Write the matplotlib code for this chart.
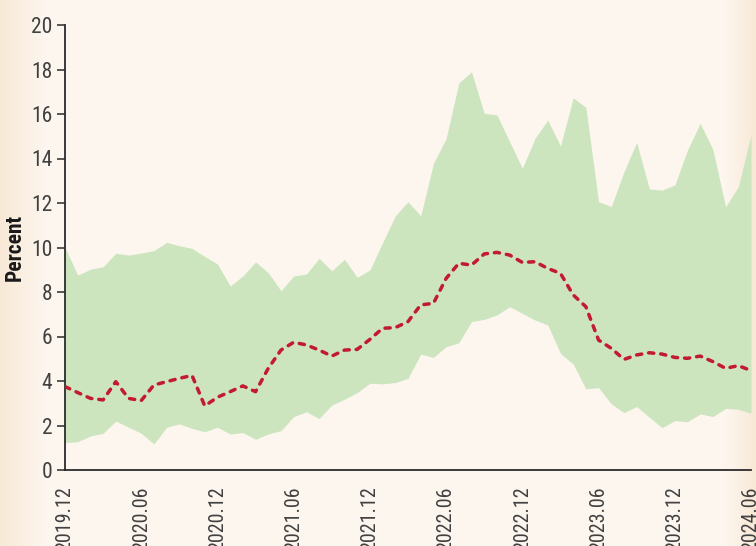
import numpy as np
import matplotlib
matplotlib.use('Agg')
import matplotlib.pyplot as plt
from matplotlib import font_manager

# monthly, 2019.12 .. 2024.06
months = 55
tick_labels = ['2019.12', '2020.06', '2020.12', '2021.06', '2021.12',
               '2022.06', '2022.12', '2023.06', '2023.12', '2024.06']

upper = [10.0, 8.76, 9.02, 9.14, 9.74, 9.66, 9.75, 9.86, 10.23, 10.08,
         9.96, 9.6, 9.26, 8.27, 8.72, 9.35, 8.87, 8.06, 8.72, 8.81,
         9.51, 8.96, 9.47, 8.66, 8.99, 10.22, 11.42, 12.06, 11.42, 13.78,
         14.9, 17.4, 17.9, 16.03, 15.96, 14.76, 13.56, 14.91, 15.73, 14.56,
         16.73, 16.3, 12.06, 11.84, 13.41, 14.73, 12.63, 12.58, 12.81, 14.38,
         15.58, 14.41, 11.83, 12.73, 15.06]

lower = [1.23, 1.27, 1.53, 1.65, 2.2, 1.92, 1.65, 1.17, 1.92, 2.07,
         1.87, 1.72, 1.92, 1.62, 1.68, 1.38, 1.62, 1.77, 2.4, 2.62,
         2.31, 2.92, 3.18, 3.48, 3.9, 3.87, 3.93, 4.12, 5.21, 5.06,
         5.54, 5.72, 6.67, 6.77, 6.97, 7.34, 7.04, 6.74, 6.52, 5.24,
         4.76, 3.65, 3.7, 2.97, 2.58, 2.85, 2.37, 1.9, 2.22, 2.17,
         2.52, 2.4, 2.77, 2.73, 2.55]

median = [3.75, 3.48, 3.22, 3.15, 3.97, 3.22, 3.12, 3.82, 3.97, 4.12,
          4.25, 2.88, 3.27, 3.52, 3.78, 3.52, 4.57, 5.39, 5.74, 5.62,
          5.39, 5.12, 5.39, 5.42, 5.87, 6.37, 6.4, 6.67, 7.42, 7.49,
          8.61, 9.29, 9.21, 9.71, 9.78, 9.66, 9.33, 9.36, 9.06, 8.84,
          7.87, 7.34, 5.84, 5.47, 4.97, 5.17, 5.27, 5.21, 5.06, 5.02,
          5.12, 4.87, 4.57, 4.69, 4.47]

x = np.arange(months)

# pick a narrow face if one is there
have = {f.name for f in font_manager.fontManager.ttflist}
narrow = [n for n in ['Liberation Sans Narrow', 'Roboto Condensed',
                      'DejaVu Sans Condensed'] if n in have]
if narrow:
    plt.rcParams['font.family'] = [narrow[0], 'DejaVu Sans']
    tsize = 14.5
else:
    plt.rcParams['font.family'] = ['Liberation Sans', 'DejaVu Sans']
    tsize = 12.5

fig = plt.figure(figsize=(7.56, 5.46), dpi=100)
fig.patch.set_facecolor('#fdf6ef')

# soft warm gradient at the left and right edges
bg = fig.add_axes([0, 0, 1, 1], zorder=-10)
w = np.linspace(0, 1, 756)
shade = np.clip(1 - w / 0.06, 0, 1) + np.clip((w - 0.96) / 0.04, 0, 1)
base = np.array([0xfd, 0xf6, 0xef]) / 255
edge = np.array([0xf8, 0xe9, 0xd6]) / 255
img = base[None, :] * (1 - shade[:, None]) + edge[None, :] * shade[:, None]
bg.imshow(img[None, :, :], aspect='auto', extent=[0, 1, 0, 1])
bg.axis('off')

ax = fig.add_axes([65 / 756, 1 - 470 / 546, 686 / 756, 445 / 546])
ax.patch.set_alpha(0)

ax.fill_between(x, lower, upper, color='#cde5bf', linewidth=0, zorder=1)
ax.plot(x, median, color='#c21a30', lw=2.5, ls=(0, (1.5, 2.0)),
        dash_capstyle='round', solid_joinstyle='round', zorder=3)

ax.set_xlim(0, 54)
ax.set_ylim(0, 20)
ax.set_yticks(range(0, 21, 2))
ax.set_xticks(range(0, 55, 6))
ax.set_xticklabels(tick_labels, rotation=90, va='top')

for s in ['top', 'right']:
    ax.spines[s].set_visible(False)
for s in ['left', 'bottom']:
    ax.spines[s].set_color('#2b2b2b')
    ax.spines[s].set_linewidth(1.3)

ax.tick_params(axis='y', length=6, width=1.1, color='#2b2b2b', pad=3,
               labelsize=tsize + 1, labelcolor='#404040')
ax.tick_params(axis='x', length=0, pad=12, labelsize=tsize,
               labelcolor='#404040')

ax.set_ylabel('Percent', fontsize=tsize + 1, fontweight='bold',
              color='#1a1a1a', labelpad=4)

fig.savefig('out.png', dpi=100, facecolor=fig.get_facecolor())
